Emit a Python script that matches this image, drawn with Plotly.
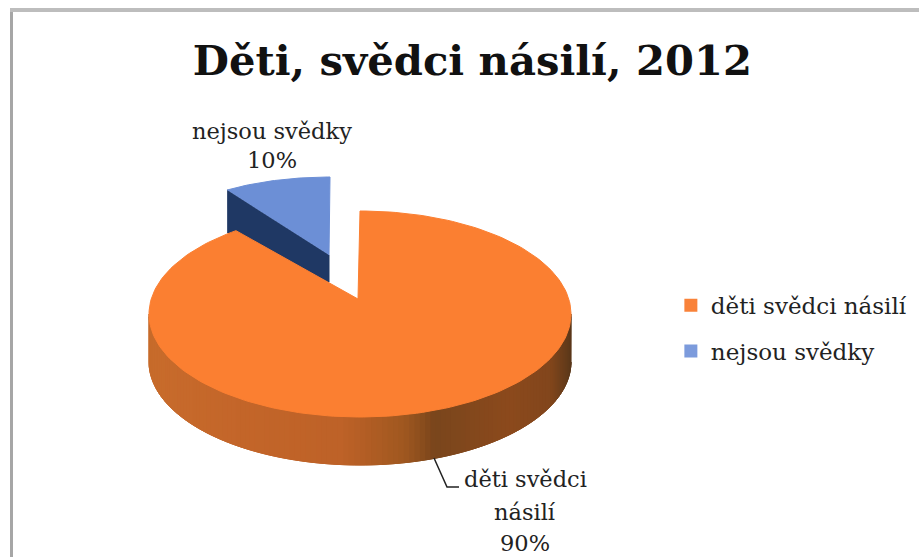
import numpy as np
import plotly.graph_objects as go

title = "Děti, svědci násilí, 2012"
categories = ["děti svědci násilí", "nejsou svědky"]
values = [90, 10]
colors_top = ["#FB7F31", "#6C8FD6"]
legend_colors = ["#F98239", "#7C9BDC"]
side_dark_blue = "#1F3864"
FONT = "DejaVu Serif"
LABEL_SIZE = 22.5

# view geometry of the tilted disc (image pixels)
CX, CY, RX, RY = 360, 314, 211, 103
APEX_Y = 299
DEPTH = 48
BCX, BCY, BRX, BRY = 330, 245, 175, 68
B_APEX = (329, 255)
B_DEPTH = 34

share = np.array(values, dtype=float) / sum(values)
# slices run clockwise from 12 o'clock
a0 = 0.0
a1 = 2 * np.pi * share[0]
a2 = 2 * np.pi


def rim(th, cx, cy, rx, ry):
    return cx + rx * np.sin(th), cy - ry * np.cos(th)


fig = go.Figure()


def poly(x, y, color):
    fig.add_trace(go.Scatter(x=list(x), y=list(y), mode="lines", fill="toself",
                             fillcolor=color, line=dict(color=color, width=1),
                             showlegend=False, hoverinfo="skip"))


# detached slice: side wall, then top face
tb = np.linspace(a1, a2, 40)
bx, by = rim(tb, BCX, BCY, BRX, BRY)
poly([bx[0], B_APEX[0], B_APEX[0], bx[0]],
     [by[0], B_APEX[1], B_APEX[1] + B_DEPTH * 0.8, by[0] + B_DEPTH * 1.25], side_dark_blue)
poly(list(bx) + [B_APEX[0]], list(by) + [B_APEX[1]], colors_top[1])

# large slice: curved wall made of shaded strips that overlap their neighbours
stops_x = [0.0, 0.2, 0.45, 0.6, 0.67, 0.85, 0.95, 1.0]
stops_c = [(200, 108, 44), (196, 102, 42), (190, 98, 40), (160, 88, 32),
           (122, 70, 28), (140, 74, 28), (130, 70, 28), (90, 56, 26)]
n_strips = 120
wall = np.linspace(np.pi / 2, 3 * np.pi / 2, n_strips + 1)
for i in range(n_strips):
    t = np.linspace(wall[max(i - 1, 0)], wall[i + 1], 5)
    x, y = rim(t, CX, CY, RX, RY)
    f = (rim(wall[i], CX, CY, RX, RY)[0] - (CX - RX)) / (2 * RX)
    c = [int(np.interp(f, stops_x, [s[k] for s in stops_c])) for k in range(3)]
    col = f"rgb({c[0]},{c[1]},{c[2]})"
    poly(list(x) + list(x[::-1]), list(y) + list((y + DEPTH)[::-1]), col)

# large slice: top face
to = np.linspace(a0, a1, 200)
ox, oy = rim(to, CX, CY, RX, RY)
poly([CX - 2] + list(ox) + [CX - 2], [APEX_Y] + list(oy) + [APEX_Y], colors_top[0])

# leader line
fig.add_trace(go.Scatter(x=[434, 447, 459], y=[458, 487, 487], mode="lines",
                         line=dict(color="#222222", width=1.5),
                         showlegend=False, hoverinfo="skip"))

# legend entries
for name, col in zip(categories, legend_colors):
    fig.add_trace(go.Scatter(x=[None], y=[None], mode="markers", name=name,
                             legendgroup=name,
                             marker=dict(symbol="square", size=13, color=col)))

# data labels, one annotation per line
label_lines = [
    (525, 479, "děti svědci"),
    (525, 512, "násilí"),
    (525, 543, f"{values[0]}%"),
    (272, 131, categories[1]),
    (272, 160, f"{values[1]}%"),
]
for lx, ly, txt in label_lines:
    fig.add_annotation(x=lx, y=ly, text=txt, showarrow=False,
                       font=dict(family=FONT, size=LABEL_SIZE, color="#222222"))

# chart frame
fig.add_shape(type="line", x0=11.5, y0=10, x1=11.5, y1=557, xref="x", yref="y",
              line=dict(color="#A6A6A6", width=3))
fig.add_shape(type="line", x0=10, y0=10, x1=919, y1=10, xref="x", yref="y",
              line=dict(color="#BDBDBD", width=4))

fig.update_layout(
    width=919, height=557, autosize=False,
    margin=dict(l=0, r=0, t=0, b=0),
    paper_bgcolor="white", plot_bgcolor="white",
    title=dict(text=f"<b>{title}</b>", x=0.514, xanchor="center", y=0.892, yanchor="middle",
               font=dict(family=FONT, size=41.7, color="#111111")),
    xaxis=dict(range=[0, 919], visible=False, fixedrange=True),
    yaxis=dict(range=[557, 0], visible=False, fixedrange=True),
    legend=dict(x=0.730, y=0.4906, xanchor="left", yanchor="top",
                font=dict(family=FONT, size=23, color="#222222"),
                tracegroupgap=13, bgcolor="rgba(0,0,0,0)"),
)
fig.write_html("out.html", config={"displayModeBar": False},
               post_script="document.body.style.margin='0';")
